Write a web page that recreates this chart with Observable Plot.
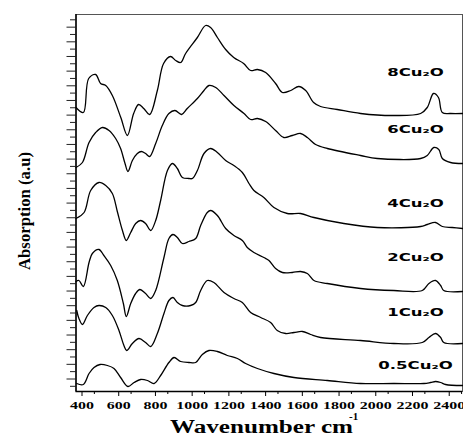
<!DOCTYPE html>
<html><head><meta charset="utf-8">
<script src="https://cdn.jsdelivr.net/npm/d3@7"></script>
<script src="https://cdn.jsdelivr.net/npm/@observablehq/plot@0.6"></script>
<style>
html,body{margin:0;padding:0;background:#fff;}
#chart svg{display:block;}
</style></head><body><div id="chart"></div>
<script>
// Wavenumbers (cm-1) and absorption (a.u., stacked) for each sample
const wn8 = [400,440,469,507,534,562,598,644,680,714,741,769,801,843,877,915,943,970,997,1061,1106,1133,1170,1215,1259,1313,1351,1388,1433,1487,1524,1570,1613,1651,1694,1732,1823,1950,2130,2277,2313,2347,2374,2395,2440,2505];
const ab8 = [284,279,313,317,308,306,296,274,256,278,287,283,277,301,328,335,331,329,338,354,366,364,354,342,334,328,321,322,319,308,299,301,305,301,289,285,282,278,276,278,284,298,294,279,278,278];

const wn6 = [400,435,471,507,544,580,616,643,667,683,707,734,756,779,801,834,870,906,939,975,1006,1061,1097,1124,1161,1206,1260,1315,1351,1388,1433,1487,1532,1578,1623,1660,1705,1769,1950,2041,2277,2313,2349,2376,2395,2440,2505];
const ab6 = [224,229,249,259,264,261,253,243,228,220,231,238,240,238,235,248,266,278,281,277,283,293,301,306,304,296,286,278,272,273,270,261,254,256,258,254,247,243,236,233,233,236,244,242,233,229,228];

const wn4 = [400,444,480,525,562,598,625,653,674,698,725,752,779,807,834,861,898,925,952,979,1015,1034,1061,1097,1133,1170,1215,1260,1306,1342,1369,1423,1478,1551,1623,1696,1859,2041,2277,2313,2358,2395,2449,2505];
const ab4 = [173,179,201,209,206,198,180,161,151,159,168,171,168,161,171,191,221,228,223,214,213,213,221,238,243,239,231,226,219,208,201,194,184,178,178,174,168,164,165,167,169,165,164,163];

const wn2 = [400,416,440,471,489,525,552,589,625,658,674,698,725,748,779,807,834,879,906,928,952,979,1015,1052,1079,1115,1133,1170,1215,1260,1306,1333,1369,1423,1451,1487,1524,1578,1623,1660,1696,1769,1950,2131,2286,2322,2358,2386,2403,2505];
const ab2 = [110,111,105,129,138,142,136,126,111,88,75,88,98,102,98,93,101,134,153,157,154,148,150,153,166,179,181,176,163,156,151,144,139,134,131,123,119,119,120,118,111,108,103,101,101,108,111,106,101,100];

const wn1 = [404,416,435,462,498,525,562,598,634,661,676,707,743,779,807,843,879,906,928,952,979,1024,1052,1079,1115,1151,1206,1260,1306,1351,1406,1460,1496,1542,1587,1633,1678,1732,1950,2131,2286,2322,2358,2386,2403,2505];
const ab1 = [81,73,67,76,84,86,84,76,61,46,41,48,53,49,45,58,78,91,94,89,86,86,89,101,111,109,99,93,89,79,74,69,61,58,59,60,57,54,51,48,49,54,58,54,49,48];

const wn05 = [404,440,471,498,531,571,607,643,683,716,752,789,825,861,906,934,970,1015,1052,1088,1124,1170,1224,1279,1324,1388,1478,1587,1769,1950,2131,2295,2331,2358,2386,2413,2505];
const ab05 = [8,7,18,24,27,26,23,14,5,9,12,11,8,16,29,34,30,29,29,37,41,40,36,33,28,23,18,14,11,8,8,8,9,10,9,7,6];

const seriesNames = ["8Cu₂O","6Cu₂O","4Cu₂O","2Cu₂O","1Cu₂O","0.5Cu₂O"];
const seriesWn = [wn8, wn6, wn4, wn2, wn1, wn05];
const seriesAb = [ab8, ab6, ab4, ab2, ab1, ab05];
const labelAb = [319, 262, 188, 134, 79, 26];
const labelWn = 2249;

const xMajor = [400,600,800,1000,1200,1400,1600,1800,2000,2200,2400];
const xMinor = [500,700,900,1100,1300,1500,1700,1900,2100,2300,2500];
const yStep = 7.33;
const yMajor = d3.range(12.5, 377, 2 * yStep);
const yMinor = d3.range(5.2, 377, 2 * yStep);

const data = seriesNames.flatMap((s, i) => seriesWn[i].map((w, j) => ({series: s, wn: w, ab: seriesAb[i][j]})));
const labels = seriesNames.map((s, i) => ({s, ab: labelAb[i]}));

const plot = Plot.plot({
  width: 463, height: 437,
  marginLeft: 75.5, marginRight: 1, marginTop: 14, marginBottom: 46,
  x: {domain: [400, 2505]},
  y: {domain: [0, 377]},
  style: {background: "#fff", overflow: "visible"},
  marks: [
    Plot.frame({stroke: "#555", strokeWidth: 1}),
    Plot.axisY(yMajor, {anchor: "left", tickSize: 9, tickFormat: () => "", label: null, stroke: "#222"}),
    Plot.axisY(yMinor, {anchor: "left", tickSize: 5.5, tickFormat: () => "", label: null, stroke: "#222"}),
    Plot.axisX(xMinor, {anchor: "bottom", tickSize: 3, tickFormat: () => "", label: null, stroke: "#000"}),
    Plot.axisX(xMajor, {anchor: "bottom", tickSize: 5, tickPadding: 5, label: null, tickFormat: d => String(d),
      fontFamily: "Liberation Serif", fontSize: 11, fontWeight: "bold", dx: 6, fill: "#000", stroke: "#000"}),
    Plot.ruleX([400], {stroke: "#000", strokeWidth: 1.5}),
    Plot.ruleY([0], {stroke: "#000", strokeWidth: 1.5}),
    Plot.line(data, {x: "wn", y: "ab", z: "series", curve: "catmull-rom", stroke: "#000", strokeWidth: 1.3}),
    Plot.text(labels, {x: () => labelWn, y: "ab", text: "s", fontFamily: "DejaVu Sans", fontWeight: "bold", fontSize: 10, fill: "#000"})
  ]
});
document.getElementById("chart").append(plot);
const svg = d3.select(plot);

svg.selectAll('g[aria-label="x-axis tick label"] text').each(function() {
  const L = this.getComputedTextLength();
  if (L > 0) { this.setAttribute("textLength", L * 1.45); this.setAttribute("lengthAdjust", "spacingAndGlyphs"); }
});
svg.selectAll('g[aria-label="text"] text').each(function() {
  const L = this.getComputedTextLength();
  if (L > 0) { this.setAttribute("textLength", L * 1.65); this.setAttribute("lengthAdjust", "spacingAndGlyphs"); }
});

svg.append("text").attr("x", 170).attr("y", 433).attr("text-anchor", "start")
  .attr("font-family", "Liberation Serif").attr("font-weight", "bold").attr("font-size", 18)
  .attr("textLength", 183).attr("lengthAdjust", "spacingAndGlyphs").attr("fill", "#000")
  .text("Wavenumber cm");
svg.append("text").attr("x", 349).attr("y", 420).attr("text-anchor", "start")
  .attr("font-family", "Liberation Serif").attr("font-weight", "bold").attr("font-size", 11).attr("fill", "#000")
  .text("-1");
svg.append("text").attr("transform", "translate(24,211) rotate(-90)")
  .attr("text-anchor", "middle").attr("dominant-baseline", "central")
  .attr("font-family", "Liberation Serif").attr("font-weight", "bold").attr("font-size", 17).attr("fill", "#000")
  .attr("textLength", 118).attr("lengthAdjust", "spacingAndGlyphs")
  .text("Absorption (a.u)");
</script></body></html>
